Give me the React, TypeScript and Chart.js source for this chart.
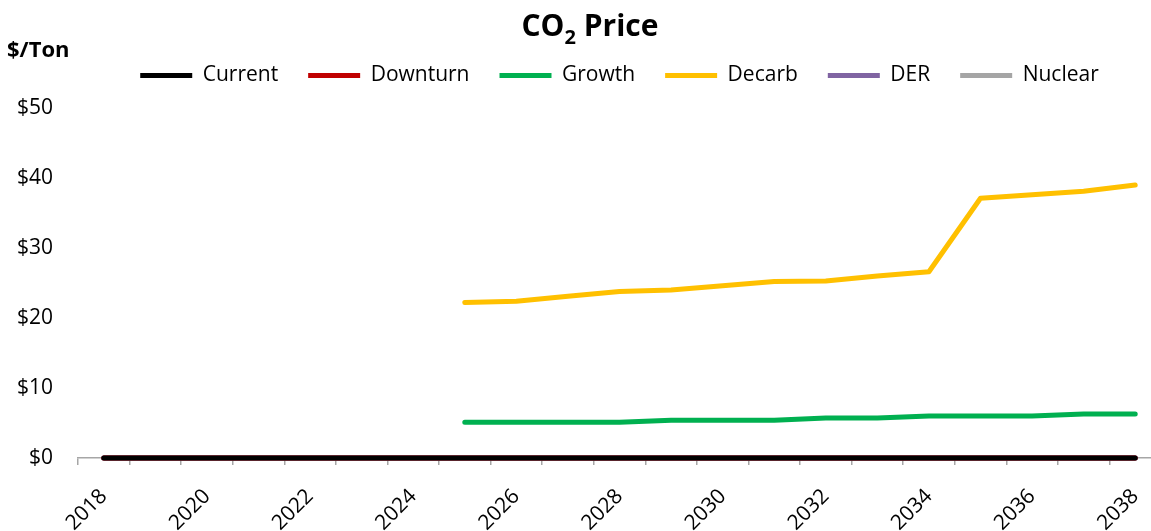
import React, { useEffect, useRef } from "react";
import { Chart, registerables } from "chart.js";

Chart.register(...registerables);

// ---------- data ----------
const years = [
  "2018", "2019", "2020", "2021", "2022", "2023", "2024", "2025", "2026", "2027", "2028",
  "2029", "2030", "2031", "2032", "2033", "2034", "2035", "2036", "2037", "2038",
];
const shownYearLabels = ["2018", "2020", "2022", "2024", "2026", "2028", "2030", "2032", "2034", "2036", "2038"];

const current = [0, 0, 0, 0, 0, 0, 0, 0, 0, 0, 0, 0, 0, 0, 0, 0, 0, 0, 0, 0, 0];
const downturn = [0, 0, 0, 0, 0, 0, 0, 0, 0, 0, 0, 0, 0, 0, 0, 0, 0, 0, 0, 0, 0];
const growth = [null, null, null, null, null, null, null, 5.1, 5.1, 5.1, 5.1, 5.4, 5.4, 5.4, 5.7, 5.7, 6.0, 6.0, 6.0, 6.3, 6.3];
const decarb = [null, null, null, null, null, null, null, 22.2, 22.4, 23.1, 23.8, 24.0, 24.6, 25.2, 25.3, 26.0, 26.6, 37.1, 37.6, 38.1, 39.0];
const der = [0, 0, 0, 0, 0, 0, 0, 0, 0, 0, 0, 0, 0, 0, 0, 0, 0, 0, 0, 0, 0];
const nuclear = [0, 0, 0, 0, 0, 0, 0, 0, 0, 0, 0, 0, 0, 0, 0, 0, 0, 0, 0, 0, 0];

const seriesNames = ["Current", "Downturn", "Growth", "Decarb", "DER", "Nuclear"];
const seriesColors = ["#000000", "#C00000", "#00B050", "#FFC000", "#8064A2", "#A5A5A5"];

const titleParts = ["CO", "2", " Price"];
const yAxisTitle = "$/Ton";
const yMin = 0;
const yMax = 50;
const yStep = 10;

const FONT = '"Open Sans", "Noto Sans", sans-serif';

const headerPlugin = {
  id: "header",
  afterDraw(chart: any) {
    const ctx = chart.ctx;
    ctx.save();
    ctx.fillStyle = "#000";
    ctx.textBaseline = "alphabetic";
    ctx.textAlign = "left";
    // title with subscript
    const bigFont = `bold 30px ${FONT}`;
    const subFont = `bold 20px ${FONT}`;
    ctx.font = bigFont;
    const w1 = ctx.measureText(titleParts[0]).width;
    const w3 = ctx.measureText(titleParts[2]).width;
    ctx.font = subFont;
    const w2 = ctx.measureText(titleParts[1]).width;
    const total = w1 + w2 + w3;
    let x = 590 - total / 2;
    const base = 36;
    ctx.font = bigFont;
    ctx.fillText(titleParts[0], x, base);
    x += w1;
    ctx.font = subFont;
    ctx.fillText(titleParts[1], x, base + 8);
    x += w2;
    ctx.font = bigFont;
    ctx.fillText(titleParts[2], x, base);
    // y axis title
    ctx.font = `bold 22px ${FONT}`;
    ctx.fillText(yAxisTitle, 7, 57);
    ctx.restore();
  },
};

export default function App() {
  const canvasRef = useRef<HTMLCanvasElement | null>(null);

  useEffect(() => {
    if (!canvasRef.current) return;
    const seriesData = [current, downturn, growth, decarb, der, nuclear];
    const datasets = seriesNames.map((name, i) => ({
      label: name,
      data: seriesData[i],
      borderColor: seriesColors[i],
      backgroundColor: seriesColors[i],
      borderWidth: 5,
      borderCapStyle: "round",
      borderJoinStyle: "round",
      pointRadius: 0,
      pointHoverRadius: 0,
      tension: 0,
      spanGaps: false,
      clip: false,
      order: i === 0 ? 0 : 1,
    }));

    const chart = new Chart(canvasRef.current, {
      type: "line",
      data: { labels: years, datasets: datasets as any },
      plugins: [headerPlugin],
      options: {
        animation: false,
        responsive: false,
        devicePixelRatio: 1,
        layout: { padding: { top: 35, left: 0, right: 5, bottom: 0 } },
        font: { family: FONT, size: 20 },
        plugins: {
          title: { display: false },
          tooltip: { enabled: false },
          legend: {
            display: true,
            position: "top",
            fullSize: false,
            labels: {
              usePointStyle: true,
              pointStyle: "line",
              pointStyleWidth: 52,
              boxHeight: 5,
              padding: 30,
              color: "#000",
              font: { family: FONT, size: 21 },
              sort: (a: any, b: any) => a.datasetIndex - b.datasetIndex,
            },
          },
        },
        scales: {
          x: {
            type: "category",
            offset: true,
            grid: {
              offset: true,
              display: true,
              drawOnChartArea: false,
              drawTicks: true,
              tickLength: 7,
              color: "#A6A6A6",
              lineWidth: 1.5,
            },
            border: { display: true, color: "#A6A6A6", width: 1.5 },
            ticks: {
              autoSkip: false,
              maxRotation: 45,
              minRotation: 45,
              padding: 19,
              color: "#000",
              font: { family: FONT, size: 21 },
              callback: function (this: any, value: any) {
                const lab = this.getLabelForValue(value);
                return shownYearLabels.includes(lab) ? lab : "";
              },
            },
            afterFit: (s: any) => {
              s.height = 73;
              s.paddingLeft = 0;
              s.paddingRight = 0;
            },
          },
          xTop: {
            type: "category",
            axis: "x",
            position: "top",
            offset: true,
            grid: { display: false, drawTicks: false },
            border: { display: false },
            ticks: { display: false },
            afterFit: (s: any) => {
              s.height = 12;
              s.paddingLeft = 0;
              s.paddingRight = 0;
            },
          },
          y: {
            min: yMin,
            max: yMax,
            grid: { display: false, drawTicks: false },
            border: { display: false },
            ticks: {
              stepSize: yStep,
              padding: 25,
              color: "#000",
              font: { family: FONT, size: 21 },
              callback: (v: any) => "$" + v,
            },
            afterFit: (s: any) => {
              s.width = 78;
              s.paddingTop = 0;
            },
          },
        },
      } as any,
    });
    return () => chart.destroy();
  }, []);

  return (
    <div
      style={{
        position: "fixed",
        left: 0,
        top: 0,
        width: 1151,
        height: 531,
        overflow: "hidden",
        background: "#fff",
      }}
    >
      <canvas
        ref={canvasRef}
        width={1166}
        height={531}
        style={{ display: "block", width: 1166, height: 531 }}
      />
    </div>
  );
}
